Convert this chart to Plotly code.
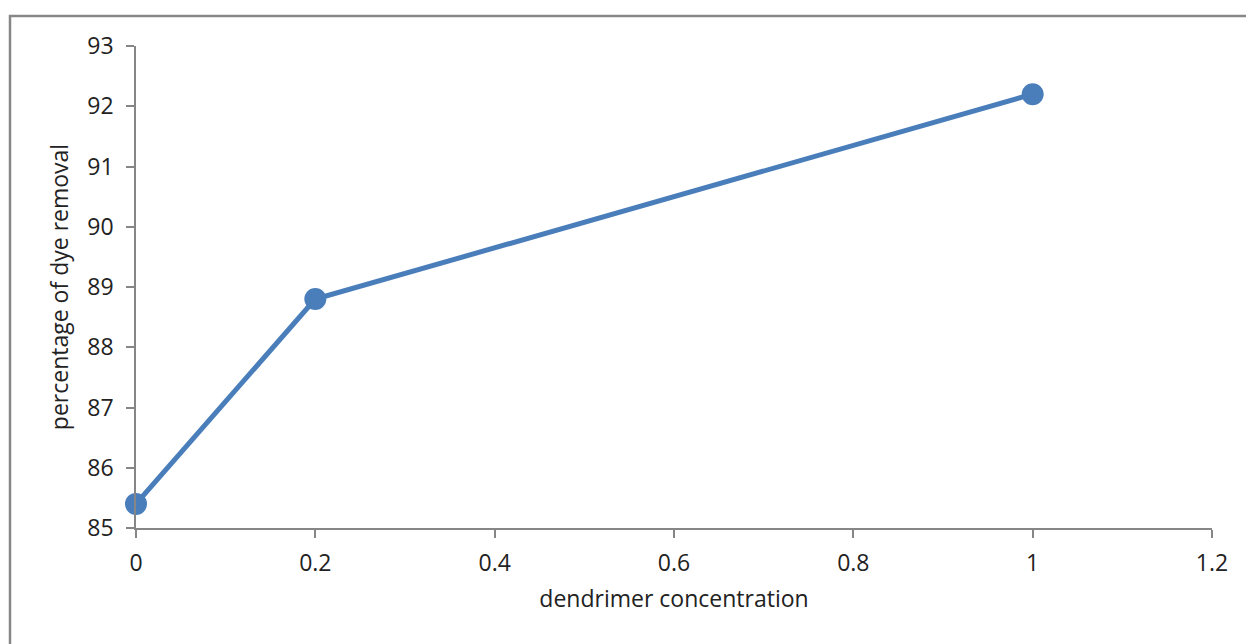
import plotly.graph_objects as go

concentration = [0, 0.2, 1]
dye_removal = [85.4, 88.8, 92.2]
x_ticks = [0, 0.2, 0.4, 0.6, 0.8, 1, 1.2]
x_tick_labels = ["0", "0.2", "0.4", "0.6", "0.8", "1", "1.2"]
y_ticks = [85, 86, 87, 88, 89, 90, 91, 92, 93]

W, H = 1246, 644
L, R, T, B = 136, 34, 46, 116
pw, ph = W - L - R, H - T - B

fig = go.Figure(go.Scatter(
    x=concentration, y=dye_removal, mode="lines+markers",
    line=dict(color="#4a7ebb", width=5),
    marker=dict(color="#4a7ebb", size=22),
    cliponaxis=False, showlegend=False,
))

font = dict(family="Open Sans, Liberation Sans, sans-serif", size=23, color="#222222")
axis_common = dict(showgrid=False, zeroline=False, showline=True, linecolor="#868686",
                   linewidth=1.5, ticks="outside", ticklen=8, tickcolor="#868686",
                   tickwidth=1.5, tickfont=font)

fig.update_layout(
    width=W, height=H, margin=dict(l=L, r=R, t=T, b=B),
    paper_bgcolor="white", plot_bgcolor="white",
    xaxis=dict(range=[0, 1.2], tickvals=x_ticks, ticktext=x_tick_labels, ticklabelstandoff=6,
               title=dict(text="dendrimer concentration", font=font, standoff=14), **axis_common),
    yaxis=dict(range=[85, 93], tickvals=y_ticks, ticklabelstandoff=8,
               title=dict(text="percentage of dye removal", font=font, standoff=12), **axis_common),
    shapes=[dict(type="rect", xref="paper", yref="paper",
                 x0=(10 - L) / pw, x1=1.3, y0=-0.5, y1=1 + (T - 16) / ph,
                 line=dict(color="#878787", width=2.5), layer="below")],
)

fig.write_html("out.html")
